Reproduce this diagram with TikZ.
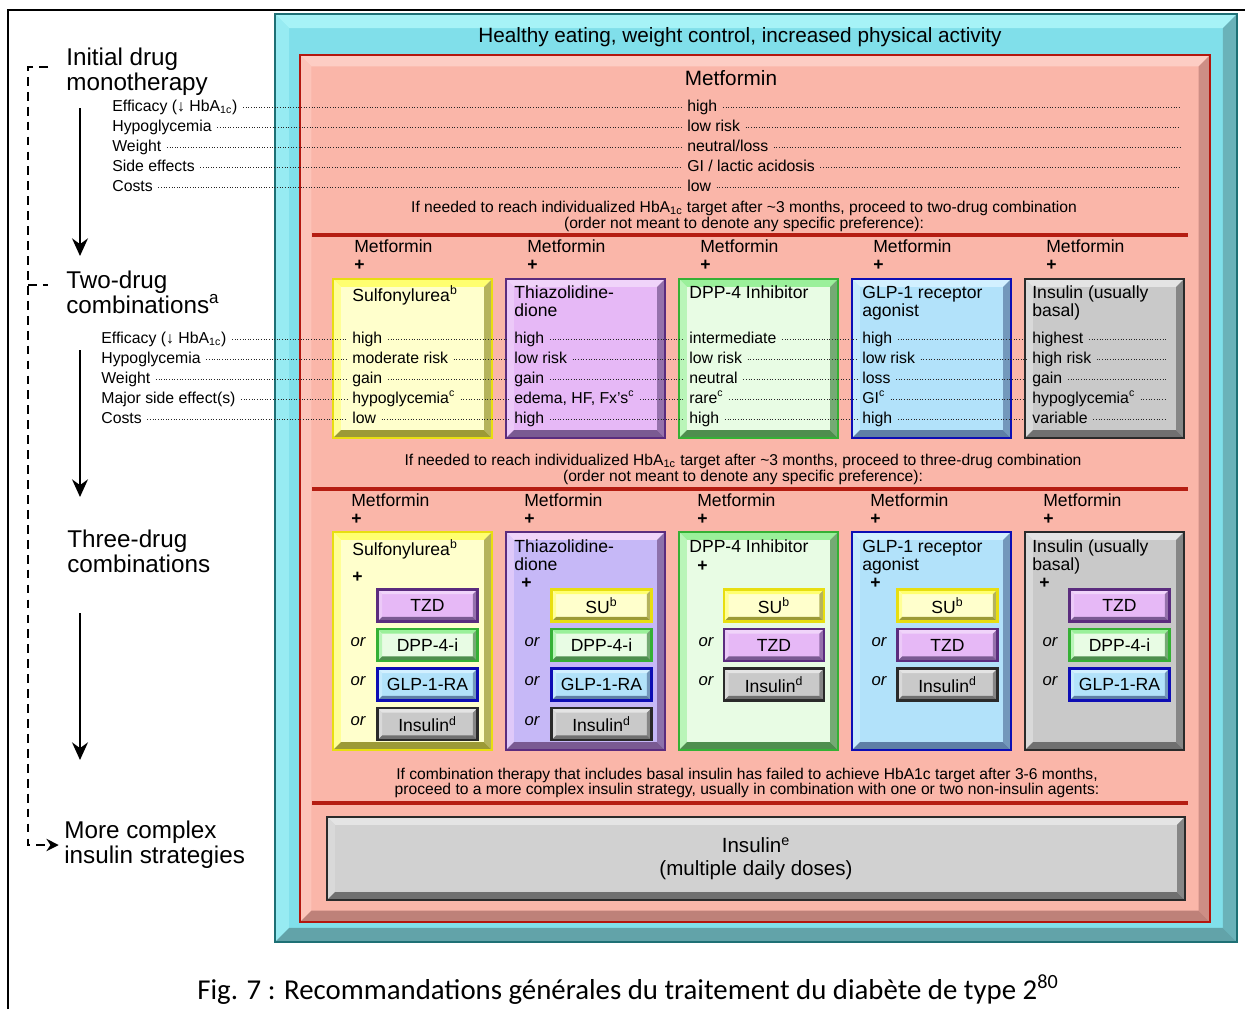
\documentclass[tikz,border=0pt]{standalone}
\usepackage{fontspec}
\setmainfont{Liberation Sans}
\newfontfamily\capfont{Carlito}
\usetikzlibrary{arrows.meta, positioning}

\definecolor{cyanFill}{HTML}{80DFEA}
\definecolor{cyanLight}{HTML}{A6F3F7}
\definecolor{cyanDark}{HTML}{62A3A9}
\definecolor{cyanLine}{HTML}{1E7075}
\definecolor{salmonFill}{HTML}{FAB6A9}
\definecolor{salmonLight}{HTML}{FDCDC4}
\definecolor{salmonDark}{HTML}{BE8179}
\definecolor{salmonLine}{HTML}{B3170F}
\definecolor{redRule}{HTML}{B51D12}
\definecolor{suFill}{HTML}{FFFFCC}
\definecolor{suLight}{HTML}{FFFF70}
\definecolor{suDark}{HTML}{9C9A36}
\definecolor{suLine}{HTML}{E8DE10}
\definecolor{tzdFill}{HTML}{E6B8F6}
\definecolor{tzdlFill}{HTML}{C6B8F7}
\definecolor{tzdLight}{HTML}{F0D4FA}
\definecolor{tzdDark}{HTML}{7A5A92}
\definecolor{tzdLine}{HTML}{5B2C7E}
\colorlet{tzdlLight}{tzdLight}
\colorlet{tzdlDark}{tzdDark}
\colorlet{tzdlLine}{tzdLine}
\definecolor{dppFill}{HTML}{E8FCE4}
\definecolor{dppLight}{HTML}{9AF09A}
\definecolor{dppDark}{HTML}{4E8E4E}
\definecolor{dppLine}{HTML}{35B035}
\definecolor{glpFill}{HTML}{B2E2FA}
\definecolor{glpLight}{HTML}{D2F0FF}
\definecolor{glpDark}{HTML}{5E7FA6}
\definecolor{glpLine}{HTML}{0D0DB4}
\definecolor{insFill}{HTML}{C9C9C9}
\definecolor{insLight}{HTML}{E4E4E4}
\definecolor{insDark}{HTML}{707070}
\definecolor{insLine}{HTML}{2A2A2A}

\tikzset{
  bevel/.style n args={5}{fill=#1, draw=#4, path picture={
      \coordinate (bnw) at (path picture bounding box.north west);
      \coordinate (bne) at (path picture bounding box.north east);
      \coordinate (bsw) at (path picture bounding box.south west);
      \coordinate (bse) at (path picture bounding box.south east);
      \fill[#2] (bnw) -- (bne) -- ([shift={(-#5,-#5)}]bne) -- ([shift={(#5,-#5)}]bnw) -- cycle;
      \fill[#2!60!#1] (bnw) -- ([shift={(#5,-#5)}]bnw) -- ([shift={(#5,#5)}]bsw) -- (bsw) -- cycle;
      \fill[#3!75!#1] (bne) -- (bse) -- ([shift={(-#5,#5)}]bse) -- ([shift={(-#5,-#5)}]bne) -- cycle;
      \fill[#3] (bsw) -- (bse) -- ([shift={(-#5,#5)}]bse) -- ([shift={(#5,#5)}]bsw) -- cycle;
  }},
  cyanBox/.style={bevel={cyanFill}{cyanLight}{cyanDark}{cyanLine}{8pt}, line width=1.2pt},
  salmonBox/.style={bevel={salmonFill}{salmonLight}{salmonDark}{salmonLine}{6.5pt}, line width=1.5pt},
  drug/.style={bevel={#1Fill}{#1Light}{#1Dark}{#1Line}{4.5pt}, line width=1.5pt},
  subdrug/.style={bevel={#1Fill}{#1Light}{#1Dark}{#1Line}{2.6pt}, line width=1.5pt,
    minimum width=2cm, minimum height=0.64cm, inner sep=0pt, font=\fontsize{10}{12}\selectfont},
  stage/.style={anchor=west, align=left, inner sep=0pt, font=\fontsize{13.8}{14.2}\selectfont},
  crit/.style={anchor=west, inner sep=0pt, text height=7pt, text depth=2pt, font=\fontsize{9}{11}\selectfont},
  val/.style={anchor=west, inner sep=0pt, text height=7pt, text depth=2pt, font=\fontsize{9}{11}\selectfont},
  colhead/.style={anchor=west, inner sep=0pt, font=\fontsize{10}{12}\selectfont},
  plus/.style={anchor=west, inner sep=0pt, font=\bfseries\fontsize{10}{12}\selectfont},
  boxtitle/.style={anchor=north west, align=left, inner sep=0pt, font=\fontsize{10}{10.2}\selectfont},
  ornode/.style={inner sep=0pt, font=\itshape\fontsize{9.5}{11}\selectfont},
  info/.style={align=center, inner sep=0pt, font=\fontsize{8.9}{8.8}\selectfont},
  dotline/.style={densely dotted, line width=0.5pt, black!85, shorten <=3pt, shorten >=3pt},
  dashline/.style={line width=1.4pt, dash pattern=on 5pt off 3.5pt},
  stagearrow/.style={line width=1.5pt, -{Stealth[length=10pt, width=9pt]}},
  rule/.style={redRule, line width=2pt}
}

\begin{document}
\begin{tikzpicture}[x=0.02cm, y=-0.02cm]
  \useasboundingbox (0,0) rectangle (1245,1009);
  % page frame
  \draw[line width=1.1pt] (8,1009) -- (8,10) -- (1245,10);

  % frames
  \path[cyanBox] (275,14) rectangle (1237,942);
  \path[salmonBox] (300,55) rectangle (1210,922);
  \node[font=\fontsize{11.8}{13}\selectfont] (life) at (740,37) {Healthy eating, weight control, increased physical activity};
  \node[font=\fontsize{11.8}{13}\selectfont] (met) at (731,78) {Metformin};

  % stages on the left
  \node[stage] (mono) at (66,72) {Initial drug\\monotherapy};
  \node[stage] (twodrug) at (66,292) {Two-drug\\combinations\textsuperscript{a}};
  \node[stage] (threedrug) at (67,551) {Three-drug\\combinations};
  \node[stage] (complex) at (64,845) {More complex\\insulin strategies};

  \coordinate (a1s) at (80,108); \coordinate (a1e) at (80,256);
  \coordinate (a2s) at (80,350); \coordinate (a2e) at (80,497);
  \coordinate (a3s) at (80,613); \coordinate (a3e) at (80,760);
  \draw[stagearrow] (a1s) -- (a1e);
  \draw[stagearrow] (a2s) -- (a2e);
  \draw[stagearrow] (a3s) -- (a3e);

  \coordinate (dtop) at (48,67);
  \coordinate (dbranch) at (28,285);
  \coordinate (dstub) at (48,285);
  \draw[dashline, -{Stealth[length=7pt, width=7pt]}, shorten >=3pt] (dtop) -- (28,67) -- (28,845) -- (complex.west);
  \draw[dashline] (dbranch) -- (dstub);

  % monotherapy rows
  \foreach \r/\c in {1/{Efficacy (↓ HbA\textsubscript{1c})}, 2/Hypoglycemia, 3/Weight, 4/Side effects, 5/Costs}
    {\node[crit] (mc\r) at (112,87+20*\r) {\c};}
  \foreach \r/\v in {1/high, 2/low risk, 3/{neutral/loss}, 4/{GI / lactic acidosis}, 5/low}
    {\node[val] (mv\r) at (687,87+20*\r) {\v};}
  \coordinate (monoend) at (1185,0);
  \foreach \r in {1,...,5}{
    \draw[dotline] (mc\r.east) -- (mv\r.west);
    \draw[dotline] (mv\r.east) -- (mv\r.east -| monoend);
  }

  \node[info] (goto2) at (744,216.5) {If needed to reach individualized HbA\textsubscript{1c} target after \textasciitilde3 months, proceed to two-drug combination\\(order not meant to denote any specific preference):};
  \draw[rule] (312,235) -- (1188,235);

  % two-drug combinations
  \foreach \n/\x in {su/333, tzd/506, dpp/679, glp/852, ins/1025}{
    \node[colhead] (\n m2) at (\x+21,246) {Metformin};
    \node[plus] (\n p2) at (\x+21,265) {+};
    \path[drug=\n] (\x,279) rectangle ++(159,159);
  }
  \node[boxtitle] (sut2) at (352,285.5) {Sulfonylurea\textsuperscript{b}};
  \node[boxtitle] (tzdt2) at (514,285.5) {Thiazolidine-\\dione};
  \node[boxtitle] (dppt2) at (689,285.5) {DPP-4 Inhibitor};
  \node[boxtitle] (glpt2) at (862,285.5) {GLP-1 receptor\\agonist};
  \node[boxtitle] (inst2) at (1032,285.5) {Insulin (usually\\basal)};

  \foreach \r/\c in {1/{Efficacy (↓ HbA\textsubscript{1c})}, 2/Hypoglycemia, 3/Weight, 4/Major side effect(s), 5/Costs}
    {\node[crit] (tc\r) at (101,319+20*\r) {\c};}
  \foreach \r/\v in {1/high, 2/moderate risk, 3/gain, 4/hypoglycemia\textsuperscript{c}, 5/low}
    {\node[val] (su\r) at (352,319+20*\r) {\v};}
  \foreach \r/\v in {1/high, 2/low risk, 3/gain, 4/{edema, HF, Fx's\textsuperscript{c}}, 5/high}
    {\node[val] (tzd\r) at (514,319+20*\r) {\v};}
  \foreach \r/\v in {1/intermediate, 2/low risk, 3/neutral, 4/rare\textsuperscript{c}, 5/high}
    {\node[val] (dpp\r) at (689,319+20*\r) {\v};}
  \foreach \r/\v in {1/high, 2/low risk, 3/loss, 4/GI\textsuperscript{c}, 5/high}
    {\node[val] (glp\r) at (862,319+20*\r) {\v};}
  \foreach \r/\v in {1/highest, 2/high risk, 3/gain, 4/hypoglycemia\textsuperscript{c}, 5/variable}
    {\node[val] (ins\r) at (1032,319+20*\r) {\v};}
  \coordinate (twoend) at (1172,0);
  \foreach \r in {1,...,5}{
    \draw[dotline] (tc\r.east) -- (su\r.west);
    \draw[dotline] (su\r.east) -- (tzd\r.west);
    \draw[dotline] (tzd\r.east) -- (dpp\r.west);
    \draw[dotline] (dpp\r.east) -- (glp\r.west);
    \draw[dotline] (glp\r.east) -- (ins\r.west);
    \draw[dotline] (ins\r.east) -- (ins\r.east -| twoend);
  }

  \node[info] (goto3) at (743,469.5) {If needed to reach individualized HbA\textsubscript{1c} target after \textasciitilde3 months, proceed to three-drug combination\\(order not meant to denote any specific preference):};
  \draw[rule] (312,489) -- (1188,489);

  % three-drug combinations
  \foreach \n/\x in {su/333, tzdl/506, dpp/679, glp/852, ins/1025}{
    \node[colhead] (\n m3) at (\x+18,500) {Metformin};
    \node[plus] (\n p3) at (\x+18,519) {+};
    \path[drug=\n] (\x,532) rectangle ++(159,218);
  }
  \node[boxtitle] (sut3) at (352,539.5) {Sulfonylurea\textsuperscript{b}};
  \node[boxtitle] (tzdt3) at (514,539.5) {Thiazolidine-\\dione};
  \node[boxtitle] (dppt3) at (689,539.5) {DPP-4 Inhibitor};
  \node[boxtitle] (glpt3) at (862,539.5) {GLP-1 receptor\\agonist};
  \node[boxtitle] (inst3) at (1032,539.5) {Insulin (usually\\basal)};
  \foreach \n/\x/\y in {su/352/577, tzd/521/583, dpp/697/566, glp/870/583, ins/1039/583}
    {\node[plus] (\n q3) at (\x,\y) {+};}

  \foreach \k/\d/\txt in {1/tzd/TZD, 2/dpp/DPP-4-i, 3/glp/GLP-1-RA, 4/ins/Insulin\textsuperscript{d}}
    {\node[subdrug=\d] (su3\k) at (427.5,566+39.5*\k) {\txt};}
  \foreach \k/\d/\txt in {1/su/SU\textsuperscript{b}, 2/dpp/DPP-4-i, 3/glp/GLP-1-RA, 4/ins/Insulin\textsuperscript{d}}
    {\node[subdrug=\d] (tzd3\k) at (601.5,566+39.5*\k) {\txt};}
  \foreach \k/\d/\txt in {1/su/SU\textsuperscript{b}, 2/tzd/TZD, 3/ins/Insulin\textsuperscript{d}}
    {\node[subdrug=\d] (dpp3\k) at (774,566+39.5*\k) {\txt};}
  \foreach \k/\d/\txt in {1/su/SU\textsuperscript{b}, 2/tzd/TZD, 3/ins/Insulin\textsuperscript{d}}
    {\node[subdrug=\d] (glp3\k) at (947.5,566+39.5*\k) {\txt};}
  \foreach \k/\d/\txt in {1/tzd/TZD, 2/dpp/DPP-4-i, 3/glp/GLP-1-RA}
    {\node[subdrug=\d] (ins3\k) at (1119.5,566+39.5*\k) {\txt};}
  \foreach \k in {2,3,4}{
    \node[ornode] (suor\k) at (358,563+39.5*\k) {or};
    \node[ornode] (tzdor\k) at (532,563+39.5*\k) {or};
  }
  \foreach \k in {2,3}{
    \node[ornode] (dppor\k) at (706,563+39.5*\k) {or};
    \node[ornode] (glpor\k) at (879,563+39.5*\k) {or};
    \node[ornode] (insor\k) at (1050,563+39.5*\k) {or};
  }

  \node[info, font=\fontsize{8.9}{9}\selectfont] (goto4) at (747,783) {If combination therapy that includes basal insulin has failed to achieve HbA1c target after 3-6 months,\\proceed to a more complex insulin strategy, usually in combination with one or two non-insulin agents:};
  \draw[rule] (312,803) -- (1188,803);

  \node[drug=ins, fill=insFill!85!white, minimum width=17.16cm, minimum height=1.66cm, align=center, font=\fontsize{11.7}{13}\selectfont] (mdi) at (756,858.5) {Insulin\textsuperscript{e}\\(multiple daily doses)};

  % caption
  \node[font=\capfont\fontsize{16.4}{18}\selectfont] (caption) at (628,990) {Fig. 7 : Recommandations générales du traitement du diabète de type 2\textsuperscript{80}};
\end{tikzpicture}
\end{document}
